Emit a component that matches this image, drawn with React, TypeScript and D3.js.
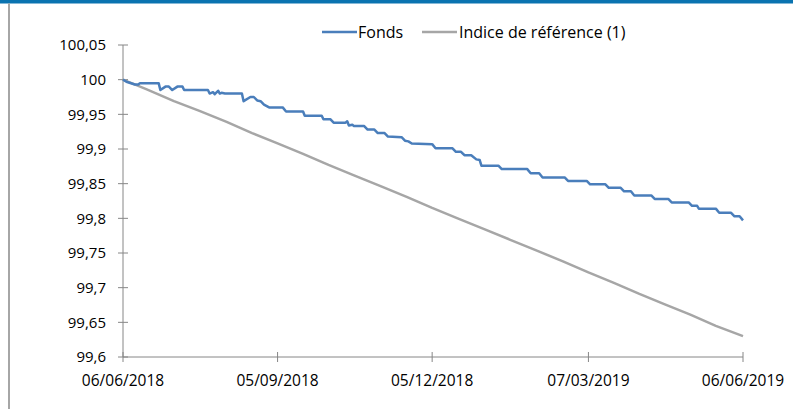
import * as d3 from 'd3';

// blue series: fund (step changes)
const fondsDates = [
  '2018-06-06', '2018-06-08', '2018-06-13', '2018-06-15', '2018-06-16', '2018-06-27', '2018-06-28',
  '2018-07-01', '2018-07-03', '2018-07-05', '2018-07-08', '2018-07-11', '2018-07-12', '2018-07-26',
  '2018-07-27', '2018-07-29', '2018-07-30', '2018-08-01', '2018-08-02', '2018-08-03', '2018-08-05',
  '2018-08-15', '2018-08-16', '2018-08-20', '2018-08-22', '2018-08-24', '2018-08-26', '2018-08-28',
  '2018-08-31', '2018-09-08', '2018-09-10', '2018-09-20', '2018-09-21', '2018-10-01', '2018-10-02',
  '2018-10-06', '2018-10-08', '2018-10-15', '2018-10-16', '2018-10-17', '2018-10-19', '2018-10-20',
  '2018-10-26', '2018-10-28', '2018-11-01', '2018-11-03', '2018-11-07', '2018-11-09', '2018-11-17',
  '2018-11-19', '2018-11-21', '2018-11-23', '2018-12-05', '2018-12-07', '2018-12-17', '2018-12-19',
  '2018-12-22', '2018-12-24', '2018-12-28', '2018-12-31', '2019-01-02', '2019-01-03', '2019-01-13',
  '2019-01-15', '2019-01-30', '2019-02-01', '2019-02-06', '2019-02-08', '2019-02-21', '2019-02-23',
  '2019-03-06', '2019-03-08', '2019-03-17', '2019-03-19', '2019-03-26', '2019-03-28', '2019-04-01',
  '2019-04-03', '2019-04-13', '2019-04-15', '2019-04-23', '2019-04-25', '2019-05-05', '2019-05-07',
  '2019-05-10', '2019-05-11', '2019-05-21', '2019-05-23', '2019-05-30', '2019-06-01', '2019-06-04',
  '2019-06-06',
];
const fondsValues = [
  100.0, 99.997, 99.993, 99.993, 99.995, 99.995, 99.985,
  99.99, 99.99, 99.985, 99.99, 99.99, 99.985, 99.985,
  99.98, 99.982, 99.979, 99.984, 99.98, 99.981, 99.98,
  99.98, 99.969, 99.975, 99.975, 99.97, 99.969, 99.964,
  99.96, 99.96, 99.954, 99.954, 99.948, 99.948, 99.943,
  99.943, 99.938, 99.938, 99.94, 99.934, 99.935, 99.933,
  99.933, 99.928, 99.928, 99.923, 99.923, 99.918, 99.917,
  99.912, 99.911, 99.908, 99.907, 99.901, 99.901, 99.896,
  99.896, 99.891, 99.891, 99.885, 99.884, 99.876, 99.876,
  99.871, 99.871, 99.865, 99.865, 99.859, 99.859, 99.854,
  99.854, 99.849, 99.849, 99.844, 99.844, 99.839, 99.839,
  99.833, 99.833, 99.828, 99.828, 99.823, 99.823, 99.818,
  99.818, 99.814, 99.814, 99.808, 99.808, 99.803, 99.803,
  99.797,
];

// grey series: benchmark index
const indiceDates = [
  '2018-06-06', '2018-06-20', '2018-07-06', '2018-07-21', '2018-08-06', '2018-08-21', '2018-09-05',
  '2018-09-20', '2018-10-05', '2018-10-20', '2018-11-05', '2018-11-20', '2018-12-05', '2018-12-20',
  '2019-01-05', '2019-01-20', '2019-02-05', '2019-02-20', '2019-03-07', '2019-03-22', '2019-04-06',
  '2019-04-21', '2019-05-06', '2019-05-21', '2019-06-06',
];
const indiceValues = [
  100.0, 99.986, 99.969, 99.955, 99.939, 99.923, 99.908,
  99.893, 99.877, 99.862, 99.846, 99.831, 99.815, 99.8,
  99.784, 99.769, 99.753, 99.738, 99.722, 99.707, 99.691,
  99.676, 99.661, 99.645, 99.63,
];

const yTicks = [99.6, 99.65, 99.7, 99.75, 99.8, 99.85, 99.9, 99.95, 100, 100.05];
const yTickLabels = ['99,6', '99,65', '99,7', '99,75', '99,8', '99,85', '99,9', '99,95', '100', '100,05'];
const xTicks = ['2018-06-06', '2018-09-05', '2018-12-05', '2019-03-07', '2019-06-06'];
const xTickLabels = ['06/06/2018', '05/09/2018', '05/12/2018', '07/03/2019', '06/06/2019'];

const seriesNames = ['Fonds', 'Indice de référence (1)'];

const W = 793;
const H = 409;
const FONT = "'Open Sans', 'Liberation Sans', sans-serif";
const AXIS = '#868686';
const BLUE = '#4a7ebb';
const GREY = '#a6a6a6';

const parse = d3.timeParse('%Y-%m-%d');

export default function App() {
  const x = d3.scaleTime()
    .domain([parse('2018-06-06')!, parse('2019-06-06')!])
    .range([123, 743]);
  const y = d3.scaleLinear().domain([99.6, 100.05]).range([357, 45]);

  const line = d3.line<[Date, number]>()
    .x(d => x(d[0]))
    .y(d => y(d[1]));

  const fonds = fondsDates.map((d, i) => [parse(d)!, fondsValues[i]] as [Date, number]);
  const indice = indiceDates.map((d, i) => [parse(d)!, indiceValues[i]] as [Date, number]);

  const [x0, x1] = x.range();
  const [yb, yt] = y.range();

  return (
    <svg width={W} height={H} style={{ position: 'absolute', left: 0, top: 0, background: '#fff' }}
      fontFamily={FONT}>
      {/* frame bits */}
      <rect x={0} y={0} width={W} height={3.5} fill="#0a73b0" />
      <line x1={9} x2={9} y1={3.5} y2={H} stroke="#a6a6a6" strokeWidth={2} />

      {/* axes */}
      <line x1={x0} x2={x0} y1={yt} y2={yb} stroke={AXIS} strokeWidth={1} />
      <line x1={x0} x2={x1} y1={yb} y2={yb} stroke={AXIS} strokeWidth={1} />
      {yTicks.map((t, i) => (
        <g key={'y' + i}>
          <line x1={x0 - 5} x2={x0 + 5} y1={y(t)} y2={y(t)} stroke={AXIS} />
          <text x={106} y={y(t)} dy="0.35em" textAnchor="end" fontSize={15} fill="#000">
            {yTickLabels[i]}
          </text>
        </g>
      ))}
      {xTicks.map((t, i) => {
        const px = x(parse(t)!);
        return (
          <g key={'x' + i}>
            <line x1={px} x2={px} y1={yb - 5} y2={yb + 5} stroke={AXIS} />
            <text x={px} y={381} dy="0.35em" textAnchor="middle" fontSize={15.5} fill="#000">
              {xTickLabels[i]}
            </text>
          </g>
        );
      })}

      {/* series */}
      <path d={line(indice) ?? ''} fill="none" stroke={GREY} strokeWidth={2.5} strokeLinejoin="round" />
      <path d={line(fonds) ?? ''} fill="none" stroke={BLUE} strokeWidth={2.5} strokeLinejoin="round" />

      {/* legend */}
      <line x1={322} x2={357} y1={32} y2={32} stroke={BLUE} strokeWidth={2.5} />
      <text x={358} y={32} dy="0.35em" fontSize={16} fill="#000">{seriesNames[0]}</text>
      <line x1={422} x2={457} y1={32} y2={32} stroke={GREY} strokeWidth={2.5} />
      <text x={459} y={32} dy="0.35em" fontSize={16} fill="#000">{seriesNames[1]}</text>
    </svg>
  );
}
